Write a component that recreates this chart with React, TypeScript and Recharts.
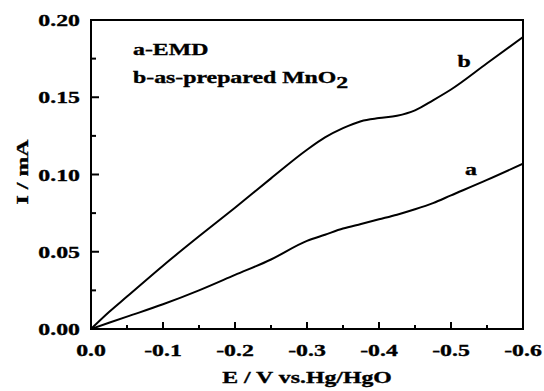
import React from 'react';
import { LineChart, Line, XAxis, YAxis, ReferenceArea, Customized } from 'recharts';

// potential E (V vs. Hg/HgO) and current I (mA)
const potential = [0, -0.025, -0.05, -0.1, -0.15, -0.2, -0.25, -0.3, -0.325, -0.35, -0.375, -0.4, -0.425, -0.45, -0.475, -0.5, -0.55, -0.6];
const currentEMD = [0, 0.004, 0.008, 0.016, 0.025, 0.035, 0.045, 0.057, 0.061, 0.065, 0.068, 0.071, 0.074, 0.0775, 0.0815, 0.0865, 0.0965, 0.107];
const currentPrepared = [0, 0.011, 0.021, 0.041, 0.06, 0.0785, 0.0975, 0.116, 0.124, 0.13, 0.1345, 0.1365, 0.138, 0.1415, 0.148, 0.155, 0.172, 0.189];

const xTicks = [0, -0.05, -0.1, -0.15, -0.2, -0.25, -0.3, -0.35, -0.4, -0.45, -0.5, -0.55, -0.6];
const yTicks = [0, 0.025, 0.05, 0.075, 0.1, 0.125, 0.15, 0.175, 0.2];

const data = potential.map((e, i) => ({ e, a: currentEMD[i], b: currentPrepared[i] }));

const FONT = '"Liberation Serif", "Times New Roman", serif';
const STRETCH = 1.4;

const SText = ({ x, y, anchor = 'start', rotate = 0, size = 17, children }: any) => (
  <text
    transform={`translate(${x},${y}) rotate(${rotate}) scale(${STRETCH},1)`}
    x={0}
    y={0}
    textAnchor={anchor}
    fontFamily={FONT}
    fontWeight="bold"
    fontSize={size}
    fill="#000"
    stroke="#000"
    strokeWidth={0.35}
  >
    {children}
  </text>
);

const XTick = ({ x, y, payload }: any) => {
  const v = payload.value;
  const major = Math.round(Math.abs(v) * 1000) % 100 === 0;
  return (
    <g>
      <line x1={x} x2={x} y1={y} y2={y - (major ? 7 : 4)} stroke="#000" strokeWidth={2} />
      {major && (
        <SText x={x} y={y + 27} anchor="middle">
          {v === 0 ? '0.0' : v.toFixed(1)}
        </SText>
      )}
    </g>
  );
};

const YTick = ({ x, y, payload }: any) => {
  const v = payload.value;
  const major = Math.round(v * 1000) % 50 === 0;
  return (
    <g>
      <line x1={x} x2={x + (major ? 8 : 5)} y1={y} y2={y} stroke="#000" strokeWidth={2} />
      {major && (
        <SText x={x - 11} y={y + 6} anchor="end">
          {v.toFixed(2)}
        </SText>
      )}
    </g>
  );
};

const Annotations = () => (
  <g>
    <SText x={133} y={55}>a-EMD</SText>
    <text
      transform={`translate(133,83) scale(${STRETCH},1)`}
      fontFamily={FONT}
      fontWeight="bold"
      fontSize={17}
      fill="#000"
      stroke="#000"
      strokeWidth={0.35}
    >
      b-as-prepared MnO
      <tspan dy={5}>2</tspan>
    </text>
    <SText x={464} y={67} anchor="middle">b</SText>
    <SText x={471} y={175} anchor="middle">a</SText>
    <SText x={307} y={383} anchor="middle">E / V vs.Hg/HgO</SText>
    <SText x={28} y={172} anchor="middle" rotate={-90}>I / mA</SText>
  </g>
);

export default function App() {
  return (
    <div style={{ position: 'absolute', left: 0, top: 0, width: 544, height: 391, background: '#fff' }}>
      <LineChart width={544} height={391} data={data} margin={{ top: 20, right: 21, bottom: 0, left: 0 }}>
        <XAxis
          dataKey="e"
          type="number"
          domain={[-0.6, 0]}
          reversed
          ticks={xTicks}
          interval={0}
          height={62}
          axisLine={false}
          tickLine={false}
          tickSize={0}
          tickMargin={0}
          tick={(p: any) => <XTick {...p} />}
          allowDataOverflow
        />
        <YAxis
          type="number"
          domain={[0, 0.2]}
          ticks={yTicks}
          interval={0}
          width={91}
          axisLine={false}
          tickLine={false}
          tickSize={0}
          tickMargin={0}
          tick={(p: any) => <YTick {...p} />}
          allowDataOverflow
        />
        <ReferenceArea x1={-0.6} x2={0} y1={0} y2={0.2} fill="none" stroke="#000" strokeWidth={2} ifOverflow="visible" />
        <Line type="monotone" dataKey="a" stroke="#000" strokeWidth={2} dot={false} isAnimationActive={false} />
        <Line type="monotone" dataKey="b" stroke="#000" strokeWidth={2} dot={false} isAnimationActive={false} />
        <Customized component={<Annotations />} />
      </LineChart>
    </div>
  );
}
